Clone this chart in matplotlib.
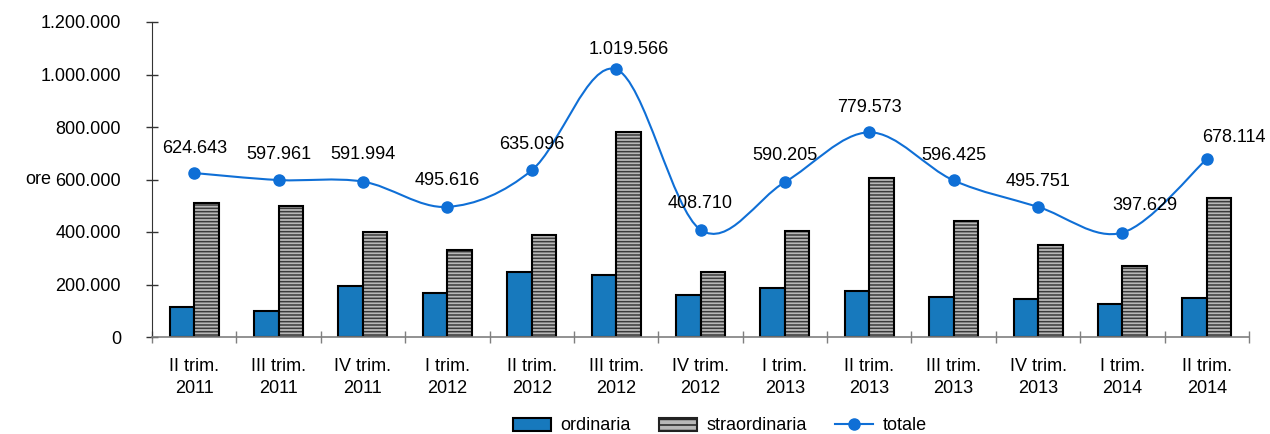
import numpy as np
import matplotlib
matplotlib.use("Agg")
from matplotlib import pyplot as plt
from matplotlib.path import Path
from matplotlib.patches import PathPatch
from matplotlib.ticker import FuncFormatter, FixedLocator
from matplotlib.lines import Line2D
from matplotlib.patches import Patch

plt.rcParams['font.family'] = ['Liberation Sans', 'DejaVu Sans']
plt.rcParams['hatch.linewidth'] = 1.1

periods = ["II trim.\n2011", "III trim.\n2011", "IV trim.\n2011", "I trim.\n2012",
           "II trim.\n2012", "III trim.\n2012", "IV trim.\n2012", "I trim.\n2013",
           "II trim.\n2013", "III trim.\n2013", "IV trim.\n2013", "I trim.\n2014",
           "II trim.\n2014"]
ordinaria = [115000, 98000, 193000, 166000, 248000, 238000, 160000, 187000,
             176000, 154000, 145000, 127000, 148000]
straordinaria = [510000, 500000, 399000, 330000, 387000, 782000, 249000, 403000,
                 604000, 442000, 351000, 271000, 530000]
totale = [624643, 597961, 591994, 495616, 635096, 1019566, 408710, 590205,
          779573, 596425, 495751, 397629, 678114]

# label offsets in pixels (layout only)
label_offsets = [(0, 25), (0, 26), (0, 27), (0, 26), (0, 26), (13, 20), (0, 26),
                 (0, 27), (0, 25), (0, 25), (0, 25), (22, 27), (27, 21)]

blue = '#1779bd'
line_blue = '#0f6fd6'
fs = 13

fig = plt.figure(figsize=(12.7, 4.34), dpi=100)
ax = fig.add_axes([152 / 1270, 97 / 434, 1097 / 1270, 315 / 434])

x = np.arange(len(periods))
w = 0.29
ax.bar(x - w / 2, ordinaria, w, color=blue, edgecolor='black', linewidth=1.5, zorder=2)
ax.bar(x + w / 2, straordinaria, w, color='#b8b8b8', edgecolor='#3a3a3a',
       hatch='-----', linewidth=0, zorder=2)
ax.bar(x + w / 2, straordinaria, w, color='none', edgecolor='black', linewidth=1.5, zorder=2)

# smoothed line like Excel (Bezier through the points)
pts = np.column_stack([x, totale]).astype(float)
verts = [pts[0]]
codes = [Path.MOVETO]
n = len(pts)
for i in range(n - 1):
    p0 = pts[max(i - 1, 0)]
    p1 = pts[i]
    p2 = pts[i + 1]
    p3 = pts[min(i + 2, n - 1)]
    c1 = p1 + (p2 - p0) / 6
    c2 = p2 - (p3 - p1) / 6
    verts += [c1, c2, p2]
    codes += [Path.CURVE4] * 3
ax.add_patch(PathPatch(Path(verts, codes), facecolor='none', edgecolor=line_blue,
                       linewidth=1.5, zorder=3))
ax.plot(x, totale, linestyle='none', marker='o', markersize=8, color=line_blue, zorder=4)

for xi, v, off in zip(x, totale, label_offsets):
    txt = f"{v:,}".replace(',', '.')
    ax.annotate(txt, (xi, v), xytext=off, textcoords='offset pixels',
                ha='center', va='center', fontsize=fs, zorder=5)

ax.set_xlim(-0.5, len(periods) - 0.5)
ax.set_ylim(0, 1200000)
ax.set_yticks(np.arange(0, 1200001, 200000))
ax.yaxis.set_major_formatter(FuncFormatter(lambda v, p: f"{int(v):,}".replace(',', '.')))
ax.set_xticks(x)
ax.set_xticklabels(periods, linespacing=1.4)
ax.xaxis.set_minor_locator(FixedLocator(np.arange(-0.5, len(periods), 1.0)))
ax.tick_params(axis='x', which='major', length=0, pad=15, labelsize=fs)
ax.tick_params(axis='x', which='minor', direction='inout', length=8, color='#7f7f7f', width=1)
ax.tick_params(axis='y', direction='inout', length=8.5, color='#333333', width=1,
               pad=18, labelsize=fs)

for s in ['top', 'right']:
    ax.spines[s].set_visible(False)
ax.spines['left'].set_color('#333333')
ax.spines['bottom'].set_color('#7f7f7f')
ax.spines['bottom'].set_linewidth(1.2)

ax.set_ylabel('ore', rotation=0, fontsize=fs, ha='center', va='center')
ax.yaxis.set_label_coords(-0.104, 0.5)

handles = [Patch(facecolor=blue, edgecolor='black', linewidth=1.5),
           Patch(facecolor='#b8b8b8', edgecolor='#222222', hatch='---', linewidth=1.5),
           Line2D([], [], color=line_blue, linewidth=1.5, marker='o', markersize=8)]
fig.legend(handles, ['ordinaria', 'straordinaria', 'totale'], ncol=3, frameon=False,
           loc='center', bbox_to_anchor=(720 / 1270, 1 - 426 / 434), fontsize=fs,
           handlelength=2.1, handletextpad=0.55, columnspacing=1.55)

fig.savefig('out.png', dpi=100)
